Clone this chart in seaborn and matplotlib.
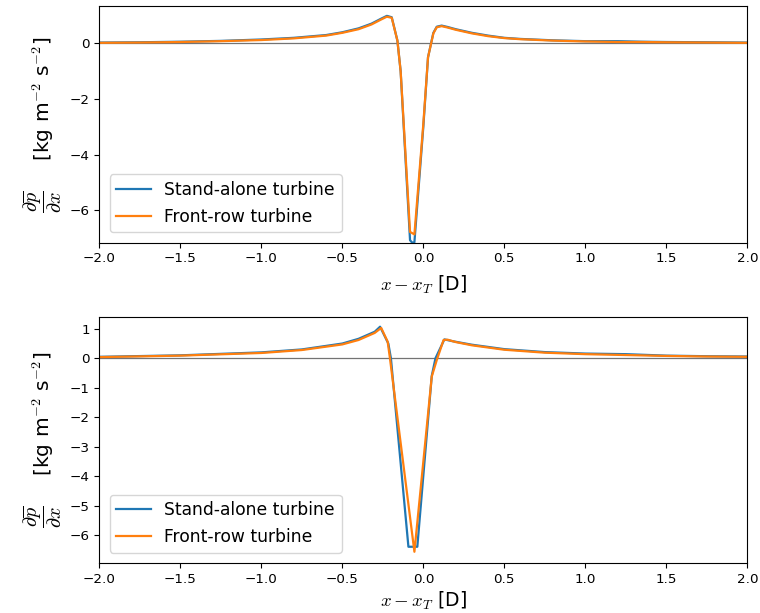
import matplotlib
matplotlib.use("Agg")
import matplotlib.pyplot as plt
import seaborn as sns
import numpy as np
import pandas as pd

plt.rcParams['mathtext.fontset'] = 'cm'
plt.rcParams['font.family'] = ['DejaVu Sans']

labels = ["Stand-alone turbine", "Front-row turbine"]

# ---- Top panel ----
top_x_blue = [-2.0, -1.75, -1.5, -1.25, -1.0, -0.8, -0.6, -0.5, -0.4, -0.32, -0.26, -0.225,
              -0.195, -0.16, -0.14, -0.082, -0.068, -0.055, 0.0, 0.029, 0.062, 0.083, 0.113,
              0.15, 0.2, 0.3, 0.4, 0.5, 0.6, 0.8, 1.0, 1.2, 1.35, 1.5, 1.75, 2.0]
top_y_blue = [0.03, 0.04, 0.06, 0.09, 0.14, 0.2, 0.3, 0.4, 0.54, 0.71, 0.89, 0.99,
              0.94, 0.1, -1.0, -7.08, -7.17, -7.15, -3.0, -0.5, 0.38, 0.6, 0.64,
              0.59, 0.51, 0.38, 0.28, 0.2, 0.16, 0.11, 0.08, 0.08, 0.06, 0.05, 0.04, 0.03]
top_x_orange = [-2.0, -1.75, -1.5, -1.25, -1.0, -0.8, -0.6, -0.5, -0.4, -0.32, -0.26, -0.225,
                -0.195, -0.16, -0.14, -0.082, -0.055, 0.0, 0.029, 0.062, 0.083, 0.113,
                0.15, 0.2, 0.3, 0.4, 0.5, 0.6, 0.8, 1.0, 1.2, 1.35, 1.5, 1.75, 2.0]
top_y_orange = [0.02, 0.03, 0.05, 0.08, 0.12, 0.18, 0.28, 0.38, 0.51, 0.68, 0.86, 0.96,
                0.92, 0.1, -1.0, -6.78, -6.87, -2.9, -0.5, 0.36, 0.58, 0.62,
                0.57, 0.49, 0.36, 0.26, 0.19, 0.15, 0.1, 0.07, 0.05, 0.05, 0.04, 0.03, 0.02]

# ---- Bottom panel ----
bot_x_blue = [-2.0, -1.5, -1.0, -0.75, -0.5, -0.4, -0.3, -0.267, -0.216, -0.2, -0.092, -0.037,
              0.052, 0.075, 0.13, 0.18, 0.3, 0.5, 0.75, 1.0, 1.25, 1.5, 1.75, 2.0]
bot_y_blue = [0.05, 0.1, 0.2, 0.3, 0.5, 0.66, 0.9, 1.07, 0.5, 0.0, -6.39, -6.39,
              -0.6, 0.0, 0.64, 0.58, 0.46, 0.31, 0.21, 0.16, 0.14, 0.09, 0.07, 0.06]
bot_x_orange = [-2.0, -1.5, -1.0, -0.75, -0.5, -0.4, -0.3, -0.26, -0.22, -0.206, -0.055,
                0.052, 0.083, 0.125, 0.15, 0.2, 0.3, 0.5, 0.75, 1.0, 1.25, 1.5, 1.75, 2.0]
bot_y_orange = [0.04, 0.09, 0.18, 0.28, 0.47, 0.62, 0.86, 1.03, 0.56, 0.0, -6.56,
                -0.62, -0.06, 0.62, 0.63, 0.55, 0.44, 0.29, 0.19, 0.14, 0.11, 0.08, 0.06, 0.05]


def make_df(xb, yb, xo, yo):
    return pd.concat([
        pd.DataFrame({"x": xb, "y": yb, "series": labels[0]}),
        pd.DataFrame({"x": xo, "y": yo, "series": labels[1]}),
    ], ignore_index=True)


fig = plt.figure(figsize=(7.6, 6.13), dpi=100)
ax1 = fig.add_axes([0.1307, 0.604, 0.8526, 0.386])
ax2 = fig.add_axes([0.1307, 0.0816, 0.8526, 0.4008])

palette = {labels[0]: "#1f77b4", labels[1]: "#ff7f0e"}
ylabel = r'$\dfrac{\partial \overline{p}}{\partial x}\quad\;$ [kg m$^{-2}$ s$^{-2}$]'

for ax, df, ylim, yticks, xlpad in [
    (ax1, make_df(top_x_blue, top_y_blue, top_x_orange, top_y_orange), (-7.17, 1.34), [0, -2, -4, -6], 6),
    (ax2, make_df(bot_x_blue, bot_y_blue, bot_x_orange, bot_y_orange), (-6.94, 1.39), [1, 0, -1, -2, -3, -4, -5, -6], 3),
]:
    ax.axhline(0, color="0.45", lw=0.9, zorder=1)
    sns.lineplot(data=df, x="x", y="y", hue="series", palette=palette, sort=False,
                 estimator=None, lw=1.6, ax=ax, zorder=2)
    ax.set_xlim(-2.0, 2.0)
    ax.set_ylim(*ylim)
    ax.set_yticks(yticks)
    ax.set_xticks(np.arange(-2.0, 2.01, 0.5))
    ax.tick_params(labelsize=9.7)
    ax.set_xlabel(r'$x - x_T$ [D]', fontsize=13.5, labelpad=xlpad)
    ax.set_ylabel(ylabel, fontsize=14.5, labelpad=4)
    leg = ax.legend(loc="lower left", fontsize=12.3, borderaxespad=0.6)
    leg.set_title(None)

fig.savefig("out.png", dpi=100)
